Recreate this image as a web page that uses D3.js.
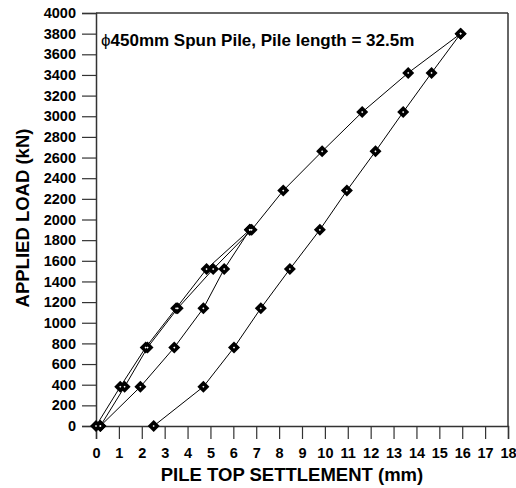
<!DOCTYPE html>
<html>
<head>
<meta charset="utf-8">
<script src="https://cdn.jsdelivr.net/npm/d3@7"></script>
<style>
  body { margin: 0; background: #fff; }
  svg { display: block; font-family: "Liberation Sans", Arial, sans-serif; }
</style>
</head>
<body>
<svg id="chart" width="516" height="488"></svg>
<script>
// Data: settlement (mm) and applied load (kN), in the order of the test
const load1Load = [0, 380, 760, 1140, 1520, 1900];
const load1Settle = [0, 1.06, 2.17, 3.5, 4.83, 6.72];
const unload1Load = [1900, 1520, 1140, 760, 380, 0];
const unload1Settle = [6.72, 5.6, 4.69, 3.42, 1.94, 0.19];
const load2Load = [0, 380, 760, 1140, 1520, 1900, 2280, 2660, 3040, 3420, 3800];
const load2Settle = [0.19, 1.25, 2.25, 3.57, 5.12, 6.8, 8.18, 9.88, 11.63, 13.64, 15.93];
const unload2Load = [3800, 3420, 3040, 2660, 2280, 1900, 1520, 1140, 760, 380, 0];
const unload2Settle = [15.93, 14.66, 13.42, 12.21, 10.96, 9.78, 8.47, 7.2, 6.03, 4.69, 2.52];

const xTicks = d3.range(0, 19, 1);
const yTicks = d3.range(0, 4001, 200);

const annotation = "450mm Spun Pile, Pile length = 32.5m";
const xTitle = "PILE TOP SETTLEMENT (mm)";
const yTitle = "APPLIED LOAD (kN)";

const phases = [
  [load1Settle, load1Load],
  [unload1Settle, unload1Load],
  [load2Settle, load2Load],
  [unload2Settle, unload2Load]
];
const points = [];
phases.forEach(([s, l]) => s.forEach((v, i) => points.push({x: v, y: l[i]})));

const svg = d3.select("#chart");
const pL = 96, pR = 508, pT = 13, pB = 426;
const x = d3.scaleLinear().domain([0, 18]).range([pL, pR]);
const y = d3.scaleLinear().domain([0, 4000]).range([pB, pT]);

const axisColor = "#333";

// frame top/right
svg.append("line").attr("x1", pL).attr("x2", pR).attr("y1", pT).attr("y2", pT)
  .attr("stroke", axisColor).attr("stroke-width", 1.5);
svg.append("line").attr("x1", pR).attr("x2", pR).attr("y1", pT).attr("y2", pB)
  .attr("stroke", axisColor).attr("stroke-width", 1.5);

const xAxis = svg.append("g").attr("transform", `translate(0,${pB})`)
  .call(d3.axisBottom(x).tickValues(xTicks).tickSize(13).tickPadding(9).tickFormat(d3.format("d")));
const yAxis = svg.append("g").attr("transform", `translate(${pL},0)`)
  .call(d3.axisLeft(y).tickValues(yTicks).tickSize(14).tickPadding(6).tickFormat(d3.format("d")));

[xAxis, yAxis].forEach(g => {
  g.select(".domain").attr("stroke", axisColor).attr("stroke-width", 1.5);
  g.selectAll(".tick line").attr("stroke", axisColor).attr("stroke-width", 1.2);
  g.selectAll(".tick text").attr("fill", "#000").style("font-size", "14.5px").style("font-weight", "bold")
    .style("font-family", "'Liberation Sans', Arial, sans-serif");
});

// line
const line = d3.line().x(d => x(d.x)).y(d => y(d.y));
svg.append("path").datum(points).attr("d", line)
  .attr("fill", "none").attr("stroke", "#000").attr("stroke-width", 1);

// markers
const mk = svg.append("g");
const diamond = (r) => `M0,${-r}L${r},0L0,${r}L${-r},0Z`;
mk.selectAll("path.outer").data(points).enter().append("path").attr("class", "outer")
  .attr("transform", d => `translate(${x(d.x)},${y(d.y)})`)
  .attr("d", diamond(6)).attr("fill", "#000");
mk.selectAll("path.inner").data(points).enter().append("path").attr("class", "inner")
  .attr("transform", d => `translate(${x(d.x)},${y(d.y)})`)
  .attr("d", diamond(1.1)).attr("fill", "#fff");

// annotation
const ann = svg.append("text").attr("x", 101).attr("y", 46)
  .style("font-size", "17px").style("font-weight", "bold").attr("fill", "#000");
ann.append("tspan").style("font-weight", "normal").text("\u03D5");
ann.append("tspan").text(annotation);

// axis titles
svg.append("text").attr("x", 292).attr("y", 481).attr("text-anchor", "middle")
  .style("font-size", "18.5px").style("font-weight", "bold").text(xTitle);
svg.append("text").attr("transform", "translate(29,218) rotate(-90)").attr("text-anchor", "middle")
  .style("font-size", "18.5px").style("font-weight", "bold").text(yTitle);
</script>
</body>
</html>
